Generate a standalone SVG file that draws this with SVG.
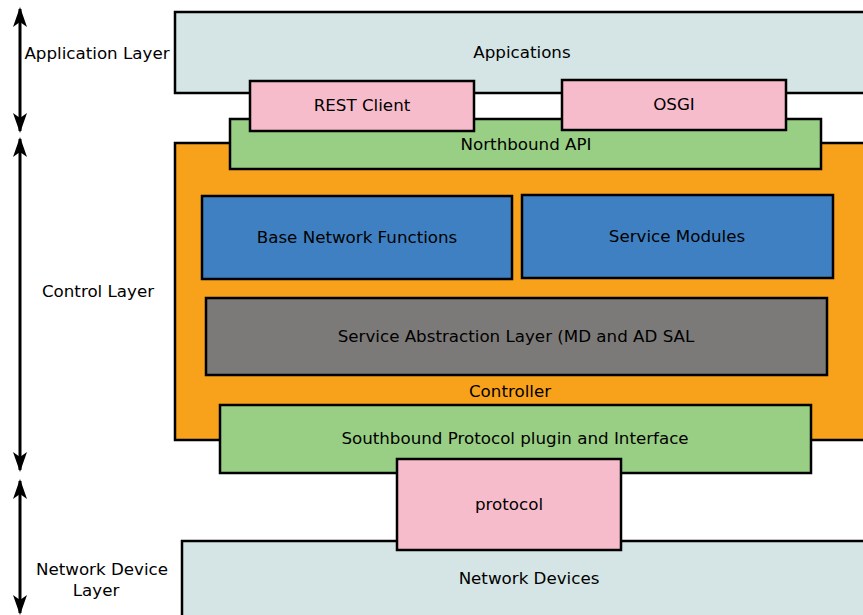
<svg xmlns="http://www.w3.org/2000/svg" width="863" height="615" viewBox="0 0 863 615">
<defs>
<marker id="ah" viewBox="0 0 20 14" refX="18" refY="7" markerWidth="20" markerHeight="14" markerUnits="userSpaceOnUse" orient="auto-start-reverse">
<path d="M0,0 L20,7 L0,14 L5,7 Z" fill="#000"/>
</marker>
<style>
.b{stroke:#000;stroke-width:2.5}
.app{fill:#d5e5e5}
.pink{fill:#f7bccb}
.green{fill:#99cf84}
.orange{fill:#f8a21c}
.blue{fill:#3f80c2}
.gray{fill:#7c7a78}
text{font-family:"DejaVu Sans",sans-serif;font-size:16.7px;fill:#000;text-anchor:middle}
.arr{stroke:#000;stroke-width:3;fill:none}
</style>
</defs>
<g id="connectors">
<line class="arr" x1="20" y1="9" x2="20" y2="131" marker-start="url(#ah)" marker-end="url(#ah)"/>
<line class="arr" x1="20" y1="139" x2="20" y2="470" marker-start="url(#ah)" marker-end="url(#ah)"/>
<line class="arr" x1="20" y1="481" x2="20" y2="613" marker-start="url(#ah)" marker-end="url(#ah)"/>
</g>
<g id="label-app"><text x="97" y="59">Application Layer</text></g>
<g id="label-control"><text x="98" y="297">Control Layer</text></g>
<g id="label-network"><text x="102" y="575">Network Device</text><text x="96" y="596">Layer</text></g>
<g id="applications"><rect class="b app" x="175" y="12" width="700" height="81"/><text x="522" y="58">Appications</text></g>
<g id="controller"><rect class="b orange" x="175" y="143" width="700" height="297"/><text x="510" y="397">Controller</text></g>
<g id="northbound"><rect class="b green" x="230" y="119" width="591" height="50"/><text x="526" y="150">Northbound API</text></g>
<g id="rest"><rect class="b pink" x="250" y="81" width="224" height="50"/><text x="362" y="111">REST Client</text></g>
<g id="osgi"><rect class="b pink" x="562" y="80" width="224" height="50"/><text x="674" y="110">OSGI</text></g>
<g id="bnf"><rect class="b blue" x="202" y="196" width="310" height="83"/><text x="357" y="243">Base Network Functions</text></g>
<g id="sm"><rect class="b blue" x="522" y="195" width="311" height="83"/><text x="677" y="242">Service Modules</text></g>
<g id="sal"><rect class="b gray" x="206" y="298" width="621" height="77"/><text x="516" y="342">Service Abstraction Layer (MD and AD SAL</text></g>
<g id="network-devices"><rect class="b app" x="182" y="541" width="700" height="90"/><text x="529" y="584">Network Devices</text></g>
<g id="southbound"><rect class="b green" x="220" y="405" width="591" height="68"/><text x="515" y="444">Southbound Protocol plugin and Interface</text></g>
<g id="protocol"><rect class="b pink" x="397" y="459" width="224" height="91"/><text x="509" y="510">protocol</text></g>
</svg>
